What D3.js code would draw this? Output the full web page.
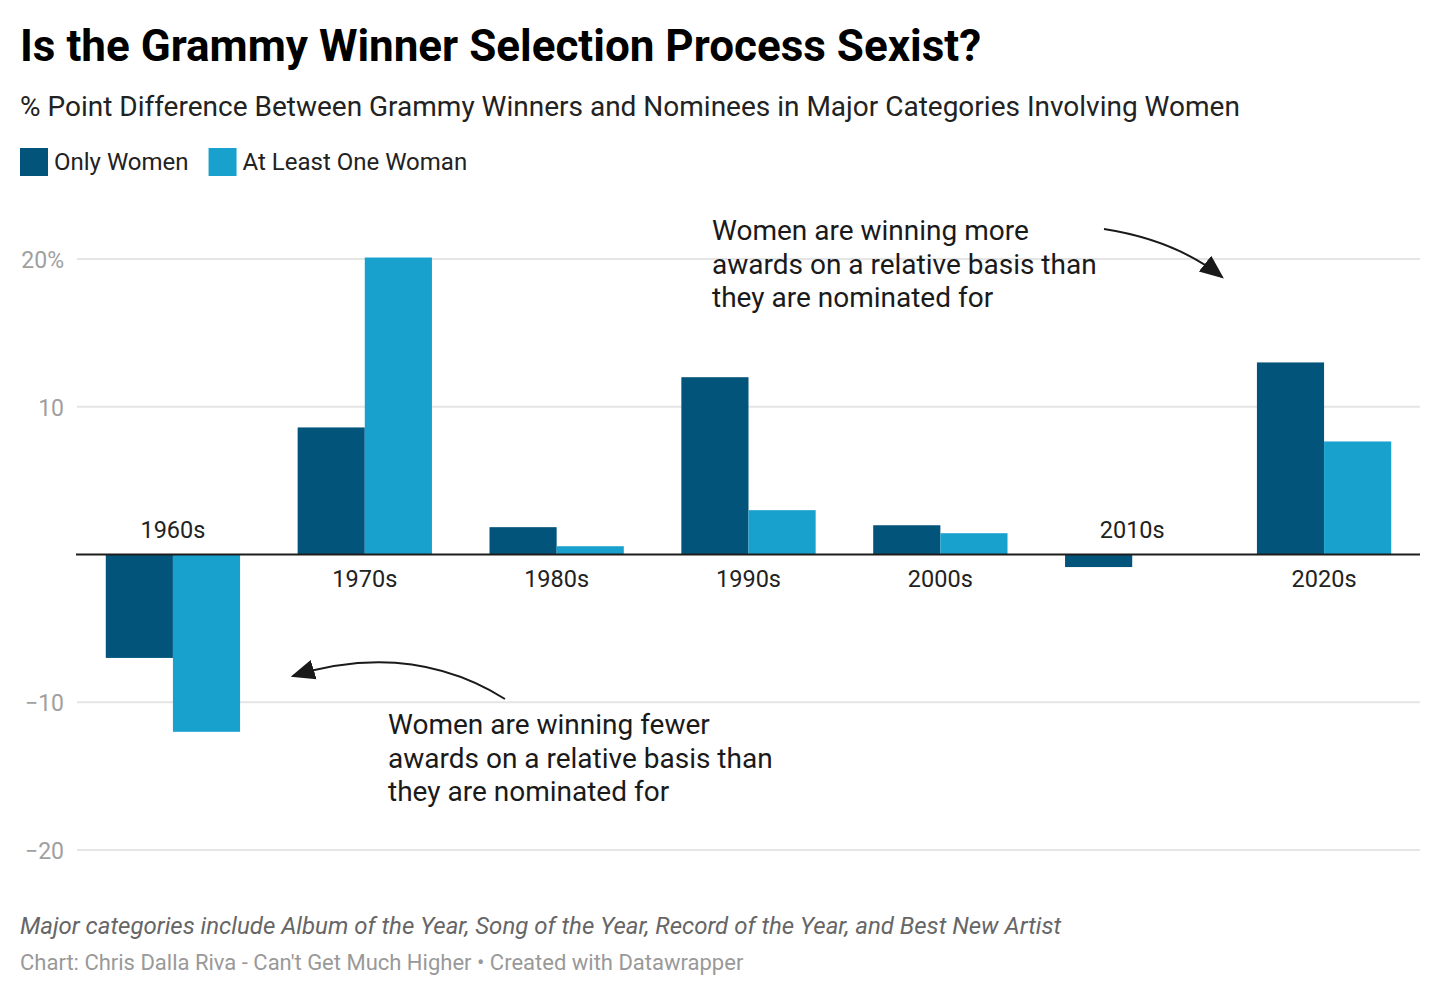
<!DOCTYPE html>
<html>
<head>
<meta charset="utf-8">
<script src="https://cdn.jsdelivr.net/npm/d3@7"></script>
<style>
  html, body { margin: 0; padding: 0; background: #fff; }
  svg { display: block; font-family: Roboto, "Noto Sans", sans-serif; }
</style>
</head>
<body>
<svg id="chart" width="1440" height="996"></svg>
<script>
const categories = ["1960s", "1970s", "1980s", "1990s", "2000s", "2010s", "2020s"];
const onlyWomen = [-7.0, 8.6, 1.85, 12.0, 1.98, -0.85, 13.0];
const atLeastOneWoman = [-12.0, 20.1, 0.56, 3.0, 1.44, 0, 7.65];
const seriesNames = ["Only Women", "At Least One Woman"];
const seriesColors = ["#03547b", "#18a1cd"];
const yTicks = [-20, -10, 10, 20];
const yTickLabels = ["−20", "−10", "10", "20%"];

const svg = d3.select("#chart");

const x0 = d3.scaleBand().domain(categories).range([77, 1420]).paddingInner(0.3).paddingOuter(0.15);
const x1 = d3.scaleBand().domain(seriesNames).range([0, x0.bandwidth()]);
const y = d3.scaleLinear().domain([-20, 20]).range([850, 259]);

// Title / subtitle
svg.append("text").attr("x", 20).attr("y", 61)
  .attr("font-size", 44).attr("font-weight", 700).attr("fill", "#000")
  .text("Is the Grammy Winner Selection Process Sexist?");
svg.append("text").attr("x", 20).attr("y", 116)
  .attr("font-size", 28).attr("fill", "#222")
  .text("% Point Difference Between Grammy Winners and Nominees in Major Categories Involving Women");

// Legend
const legend = svg.append("g");
let lx = 20;
seriesNames.forEach((name, i) => {
  const g = legend.append("g").attr("transform", `translate(${lx},148)`);
  g.append("rect").attr("width", 28).attr("height", 28).attr("fill", seriesColors[i]);
  const t = g.append("text").attr("x", 34).attr("y", 22).attr("font-size", 24).attr("fill", "#222").text(name);
  lx += 34 + t.node().getComputedTextLength() + 20;
});

// Gridlines + y labels
const yAxis = d3.axisLeft(y).tickValues(yTicks).tickSize(0).tickFormat((d, i) => yTickLabels[i]);
const ya = svg.append("g").attr("transform", "translate(64,0)").call(yAxis);
ya.select(".domain").remove();
ya.selectAll("text").attr("font-size", 23).attr("fill", "#a0a0a0")
  .attr("font-family", "Roboto, sans-serif").attr("dx", 0).attr("dy", "0.36em").attr("x", 0);

svg.append("g").selectAll("line").data(yTicks).join("line")
  .attr("x1", 77).attr("x2", 1420).attr("y1", d => y(d)).attr("y2", d => y(d))
  .attr("stroke", "#e5e5e5").attr("stroke-width", 2);

// Bars
const groups = svg.append("g").selectAll("g").data(categories).join("g")
  .attr("transform", d => `translate(${x0(d)},0)`);
groups.selectAll("rect").data((d, i) => [
  { s: seriesNames[0], v: onlyWomen[i], c: seriesColors[0] },
  { s: seriesNames[1], v: atLeastOneWoman[i], c: seriesColors[1] }
]).join("rect")
  .attr("x", d => x1(d.s)).attr("width", x1.bandwidth())
  .attr("y", d => y(Math.max(0, d.v))).attr("height", d => Math.abs(y(d.v) - y(0)))
  .attr("fill", d => d.c);

// Zero baseline
svg.append("line").attr("x1", 76).attr("x2", 1420).attr("y1", y(0)).attr("y2", y(0))
  .attr("stroke", "#1d1d1d").attr("stroke-width", 2);

// Category labels
svg.append("g").selectAll("text").data(categories).join("text")
  .attr("x", d => x0(d) + x0.bandwidth() / 2)
  .attr("y", (d, i) => Math.min(onlyWomen[i], atLeastOneWoman[i]) < 0 ? y(0) - 17 : y(0) + 32)
  .attr("text-anchor", "middle").attr("font-size", 23.5).attr("fill", "#222")
  .text(d => d);

// Annotations
function multiline(xp, yp, lines) {
  const t = svg.append("text").attr("x", xp).attr("y", yp).attr("font-size", 28).attr("fill", "#1a1a1a");
  lines.forEach((l, i) => t.append("tspan").attr("x", xp).attr("dy", i === 0 ? 0 : 33.5).text(l));
}
multiline(712, 240, ["Women are winning more", "awards on a relative basis than", "they are nominated for"]);
multiline(388, 734, ["Women are winning fewer", "awards on a relative basis than", "they are nominated for"]);

const defs = svg.append("defs");
defs.append("marker").attr("id", "ah").attr("viewBox", "0 0 10 10").attr("refX", 9).attr("refY", 5)
  .attr("markerWidth", 24).attr("markerHeight", 24).attr("markerUnits", "userSpaceOnUse")
  .attr("orient", "auto")
  .append("path").attr("d", "M0,0.8 L10,5 L0,9.2 Z").attr("fill", "#1a1a1a");

svg.append("path").attr("d", "M1104,229 Q1175,240 1222,277")
  .attr("fill", "none").attr("stroke", "#1a1a1a").attr("stroke-width", 2).attr("marker-end", "url(#ah)");
svg.append("path").attr("d", "M505,699 Q410,640 293,676")
  .attr("fill", "none").attr("stroke", "#1a1a1a").attr("stroke-width", 2).attr("marker-end", "url(#ah)");

// Notes & credits
svg.append("text").attr("x", 20).attr("y", 934).attr("font-size", 24).attr("font-style", "italic")
  .attr("fill", "#666").text("Major categories include Album of the Year, Song of the Year, Record of the Year, and Best New Artist");
svg.append("text").attr("x", 20).attr("y", 970).attr("font-size", 22).attr("fill", "#999")
  .text("Chart: Chris Dalla Riva - Can't Get Much Higher • Created with Datawrapper");
</script>
</body>
</html>
